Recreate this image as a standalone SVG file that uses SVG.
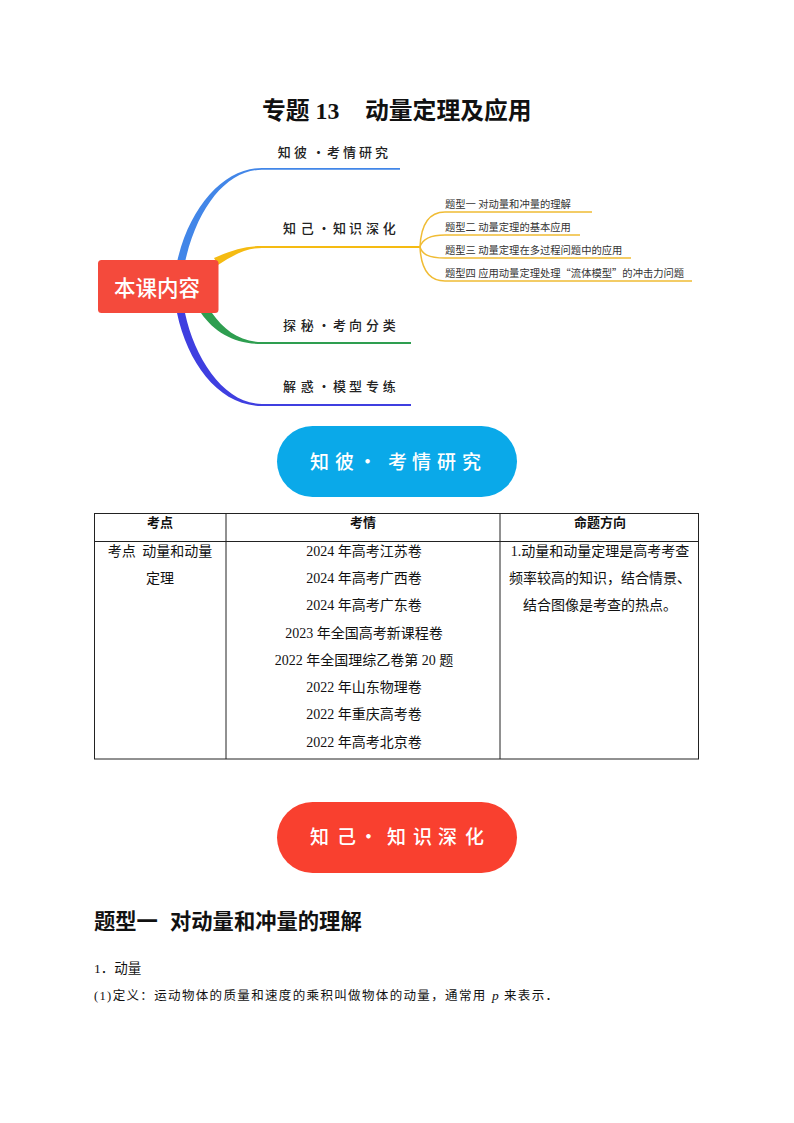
<svg xmlns="http://www.w3.org/2000/svg" width="794" height="1123" viewBox="0 0 794 1123">
<style>
text{font-family:"Liberation Serif","Noto Sans CJK SC",serif;fill:#111}
.hand{font-family:"Noto Sans CJK SC",sans-serif;font-weight:500;font-size:13px;fill:#222}
.pill{font-family:"Noto Sans CJK SC",sans-serif;font-weight:500;font-size:19px;fill:#fff}
.sub{font-family:"Noto Sans CJK SC",sans-serif;font-size:10.300px;fill:#333}
.cell{font-size:14px;text-anchor:middle}
.head{font-size:13px;font-weight:700;text-anchor:middle}
.thin{fill:none;stroke:#F0BC35;stroke-width:1.500}
.grid{stroke:#222;stroke-width:1;fill:none}
</style>
<rect width="794" height="1123" fill="#fff"/>
<text id="title" x="262" y="118.500" font-size="23.800" font-weight="700">专题 13</text>
<text x="365" y="118.500" font-size="23.800" font-weight="700">动量定理及应用</text>
<g id="connectors">
<path fill="#4286E8" d="M177,262C190,205 225,168 262,168H400V169.700H262C228,170 198,205 185,262Z"/>
<path fill="#F5BB12" d="M214,258C232,250 245,246 262,246H420V248H262C245,248 232,256 218,265Z"/>
<path fill="#2E9E50" d="M212,313C224,330 240,342 262,342H411V344H262C235,344 215,333 201,313Z"/>
<path fill="#3F3FE0" d="M185,313C195,360 225,404 262,404H411V406H262C220,406 188,365 177,313Z"/>
<path class="thin" d="M420,247C421,225 428,212 445,212H592"/>
<path class="thin" d="M420,247C422,240 428,235 445,235H580"/>
<path class="thin" d="M420,247C422,254 428,258 445,258H631"/>
<path class="thin" d="M420,247C421,268 428,281 445,281H692"/>
</g>
<g id="root"><rect x="98" y="260" width="120.500" height="53" rx="3.500" fill="#F44A3C"/>
<text x="157" y="296" font-size="21.500" font-weight="500" text-anchor="middle" style="fill:#fff;font-family:'Noto Sans CJK SC',sans-serif">本课内容</text></g>
<g id="branch1"><text class="hand" x="277.700 294 312 327 343 359 375" y="157">知彼·考情研究</text></g>
<g id="branch2"><text class="hand" x="283 300.700 317.500 333 349 366 382.700" y="233">知己·知识深化</text></g>
<g id="branch3"><text class="hand" x="283 300.700 317.500 333 349 366 382.700" y="330">探秘·考向分类</text></g>
<g id="branch4"><text class="hand" x="283 300.700 317.500 333 349 366 382.700" y="391">解惑·模型专练</text></g>
<g id="sub1"><text class="sub" x="445" y="207.500">题型一 对动量和冲量的理解</text></g>
<g id="sub2"><text class="sub" x="445" y="230.500">题型二 动量定理的基本应用</text></g>
<g id="sub3"><text class="sub" x="445" y="253.500">题型三 动量定理在多过程问题中的应用</text></g>
<g id="sub4"><text class="sub" x="445" y="276.500">题型四 应用动量定理处理“流体模型”的冲击力问题</text></g>
<g id="pill1"><rect x="277" y="426" width="240" height="71" rx="35.500" fill="#0AA9E9"/>
<text class="pill" x="310 335 358 388 412 437 462" y="468.500">知彼·考情研究</text></g>
<g id="table">
<rect class="grid" x="94.500" y="513.500" width="604" height="245.500"/>
<path class="grid" d="M94.500,541.500H698.500M226,513.500V759M500,513.500V759"/>
<text class="head" x="160" y="527">考点</text>
<text class="head" x="363" y="527">考情</text>
<text class="head" x="600" y="527">命题方向</text>
<text class="cell" x="160" y="556" word-spacing="3">考点 动量和动量</text>
<text class="cell" x="160" y="583">定理</text>
<text class="cell" x="364" y="556">2024 年高考江苏卷</text>
<text class="cell" x="364" y="583">2024 年高考广西卷</text>
<text class="cell" x="364" y="610">2024 年高考广东卷</text>
<text class="cell" x="364" y="638">2023 年全国高考新课程卷</text>
<text class="cell" x="364" y="665">2022 年全国理综乙卷第 20 题</text>
<text class="cell" x="364" y="692">2022 年山东物理卷</text>
<text class="cell" x="364" y="719">2022 年重庆高考卷</text>
<text class="cell" x="364" y="747">2022 年高考北京卷</text>
<text class="cell" x="600" y="556">1.动量和动量定理是高考考查</text>
<text class="cell" x="600" y="583">频率较高的知识，结合情景、</text>
<text class="cell" x="600" y="610">结合图像是考查的热点。</text>
</g>
<g id="pill2"><rect x="277" y="802" width="240" height="71" rx="35.500" fill="#F9402F"/>
<text class="pill" x="310 337 359 387 413 438 465" y="843.500">知己·知识深化</text></g>
<text x="94" y="928.500" font-size="21.300" font-weight="700">题型一</text>
<text x="170" y="928.500" font-size="21.300" font-weight="700">对动量和冲量的理解</text>
<text x="94" y="973" font-size="13.500">1．动量</text>
<text x="94" y="1000" font-size="12.500" letter-spacing="1.350">(1)定义：运动物体的质量和速度的乘积叫做物体的动量，通常用</text>
<text x="492" y="1000" font-size="13.500" font-style="italic">p</text>
<text x="504" y="1000" font-size="12.500" letter-spacing="1.350">来表示．</text>
</svg>
